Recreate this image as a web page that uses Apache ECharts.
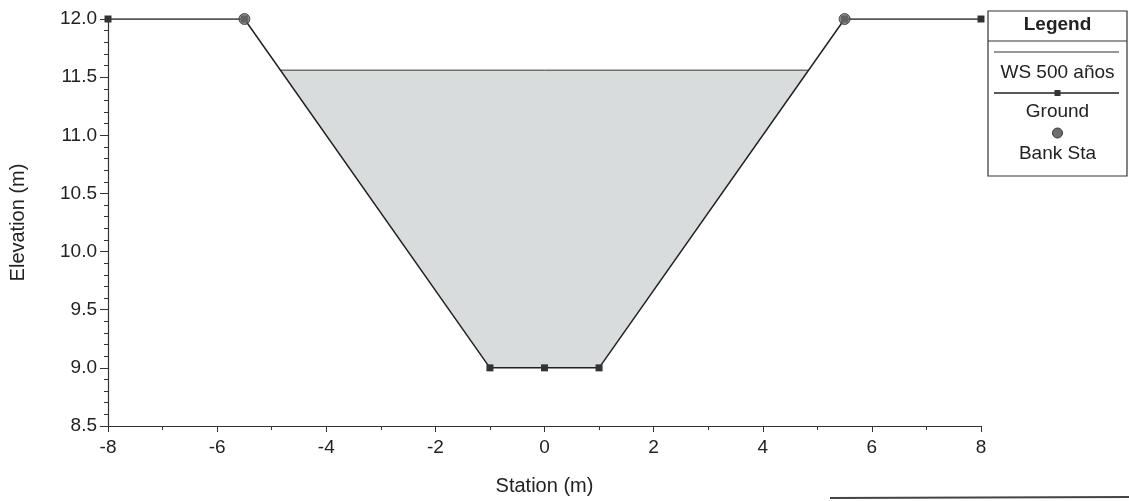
<!DOCTYPE html>
<html>
<head>
<meta charset="utf-8">
<script src="https://cdn.jsdelivr.net/npm/echarts@6/dist/echarts.min.js"></script>
<style>
html,body{margin:0;padding:0;background:#fff;}
#chart{width:1129px;height:501px;}
</style>
</head>
<body>
<div id="chart"></div>
<script>
// Ground profile
const groundStation = [-8, -5.5, -1, 0, 1, 5.5, 8];
const groundElev    = [12.0, 12.0, 9.0, 9.0, 9.0, 12.0, 12.0];
// Bank stations
const bankStation = [-5.5, 5.5];
const bankElev    = [12.0, 12.0];
// Water surface (WS 500 años)
const wsStation = [-4.84, 4.84];
const wsElev    = [11.56, 11.56];
// Axis settings
const xTicks = [-8, -6, -4, -2, 0, 2, 4, 6, 8];
const yTicks = [8.5, 9.0, 9.5, 10.0, 10.5, 11.0, 11.5, 12.0];

const groundData = groundStation.map((s, i) => [s, groundElev[i]]);
const bankData = bankStation.map((s, i) => [s, bankElev[i]]);
const wsData = wsStation.map((s, i) => [s, wsElev[i]]);

// water polygon: WS line then ground points below it (right to left)
const waterPoly = wsData.slice();
for (let i = groundData.length - 1; i >= 0; i--) {
  if (groundData[i][1] < wsElev[0]) waterPoly.push(groundData[i]);
}

const FONT = 'Liberation Sans, Arial, sans-serif';
const chart = echarts.init(document.getElementById('chart'));
const lx = 988, ly = 11, lw = 139, lh = 165, lc = lx + lw / 2;

chart.setOption({
  animation: false,
  backgroundColor: '#fff',
  grid: { left: 108, right: 148, top: 19, bottom: 75, containLabel: false, outerBoundsMode: 'none' },
  xAxis: {
    type: 'value', min: xTicks[0], max: xTicks[xTicks.length - 1], interval: 2,
    name: 'Station (m)', nameLocation: 'middle', nameGap: 50,
    nameTextStyle: { fontFamily: FONT, fontSize: 20, color: '#222' },
    axisLine: { onZero: false, lineStyle: { color: '#333', width: 1.2 } },
    axisTick: { length: 6, lineStyle: { color: '#333' } },
    minorTick: { show: true, splitNumber: 2, length: 4, lineStyle: { color: '#333' } },
    splitLine: { show: false },
    axisLabel: { fontFamily: FONT, fontSize: 19, color: '#222', margin: 12 }
  },
  yAxis: {
    type: 'value', min: yTicks[0], max: yTicks[yTicks.length - 1], interval: 0.5,
    name: 'Elevation (m)', nameLocation: 'middle', nameGap: 80,
    nameTextStyle: { fontFamily: FONT, fontSize: 20, color: '#222' },
    axisLine: { show: true, onZero: false, lineStyle: { color: '#333', width: 1.2 } },
    axisTick: { show: true, length: 8, lineStyle: { color: '#333' } },
    minorTick: { show: true, splitNumber: 5, length: 4, lineStyle: { color: '#333' } },
    splitLine: { show: false },
    axisLabel: { fontFamily: FONT, fontSize: 19, color: '#222', margin: 11,
      formatter: v => v.toFixed(1) }
  },
  series: [
    {
      type: 'custom', name: 'water', data: [[0, 10]], z: 1, silent: true,
      renderItem: (params, api) => ({
        type: 'polygon',
        shape: { points: waterPoly.map(p => api.coord(p)) },
        style: { fill: '#d9dcdc' }
      })
    },
    {
      type: 'line', name: 'WS 500 años', data: wsData, showSymbol: false, symbol: 'none',
      lineStyle: { color: '#333', width: 1 }, z: 3
    },
    {
      type: 'line', name: 'Ground', data: groundData, symbol: 'rect', symbolSize: 7,
      itemStyle: { color: '#333' }, lineStyle: { color: '#222', width: 1.5 }, z: 4
    },
    {
      type: 'scatter', name: 'Bank Sta', data: bankData, symbol: 'circle', symbolSize: 11,
      itemStyle: { color: '#6e6e6e', borderColor: '#333', borderWidth: 1 }, z: 5
    }
  ],
  graphic: [
    { type: 'rect', shape: { x: lx, y: ly, width: lw, height: lh },
      style: { fill: '#fff', stroke: '#333', lineWidth: 1.2 } },
    { type: 'line', shape: { x1: lx, y1: 41, x2: lx + lw, y2: 41 }, style: { stroke: '#333', lineWidth: 1 } },
    { type: 'text', x: lc, y: 25, style: { text: 'Legend', font: 'bold 19px ' + FONT, fill: '#222', align: 'center', verticalAlign: 'middle' } },
    { type: 'line', shape: { x1: lx + 6, y1: 52, x2: lx + lw - 8, y2: 52 }, style: { stroke: '#333', lineWidth: 1.2 } },
    { type: 'text', x: lc, y: 73, style: { text: 'WS 500 años', font: '19px ' + FONT, fill: '#222', align: 'center', verticalAlign: 'middle' } },
    { type: 'line', shape: { x1: lx + 6, y1: 93, x2: lx + lw - 8, y2: 93 }, style: { stroke: '#222', lineWidth: 1.5 } },
    { type: 'rect', shape: { x: lc - 3, y: 90, width: 6, height: 6 }, style: { fill: '#333' } },
    { type: 'text', x: lc, y: 112, style: { text: 'Ground', font: '19px ' + FONT, fill: '#222', align: 'center', verticalAlign: 'middle' } },
    { type: 'circle', shape: { cx: lc, cy: 133, r: 5 }, style: { fill: '#6e6e6e', stroke: '#333', lineWidth: 1 } },
    { type: 'text', x: lc, y: 154, style: { text: 'Bank Sta', font: '19px ' + FONT, fill: '#222', align: 'center', verticalAlign: 'middle' } },
    { type: 'line', shape: { x1: 830, y1: 498, x2: 1129, y2: 497 }, style: { stroke: '#444', lineWidth: 2 } }
  ]
});
</script>
</body>
</html>
